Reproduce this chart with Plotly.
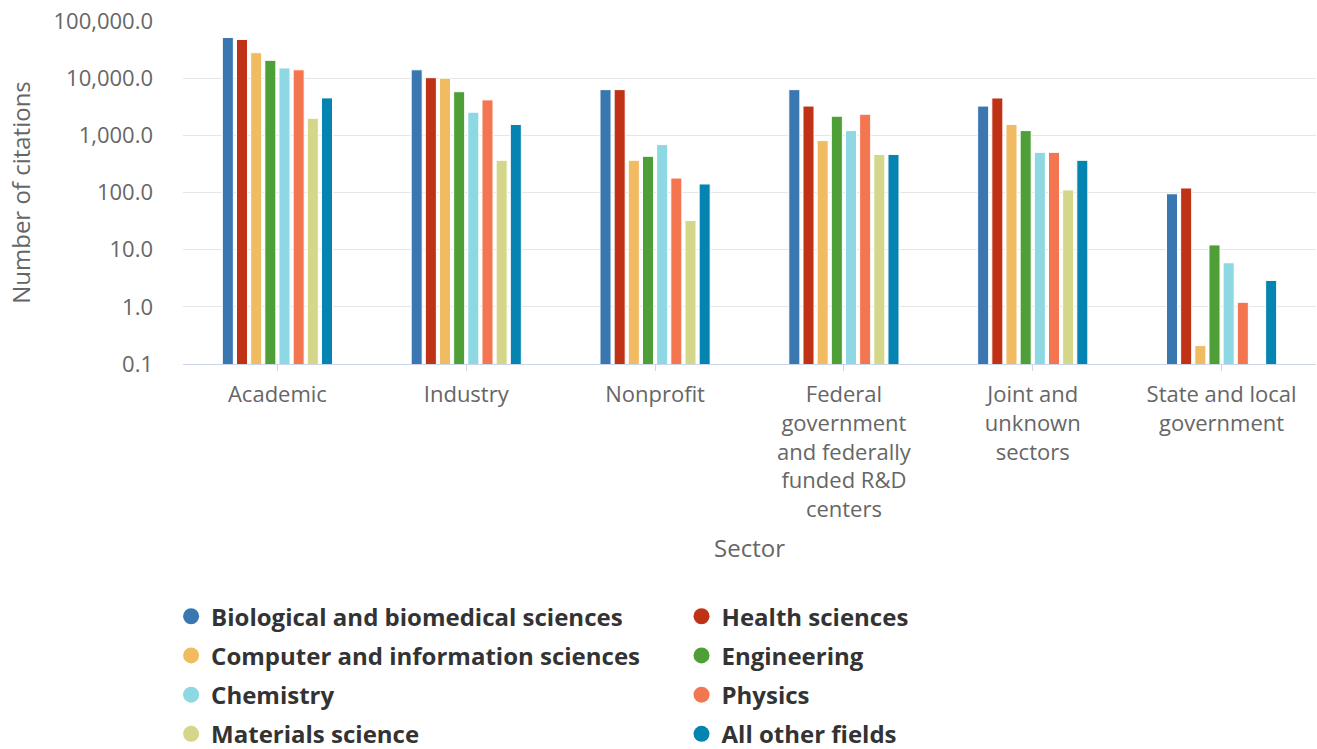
import plotly.graph_objects as go

sectors = ["Academic", "Industry", "Nonprofit",
           "Federal government and federally funded R&D centers",
           "Joint and unknown sectors", "State and local government"]
sector_labels = ["Academic", "Industry", "Nonprofit",
                 "Federal<br>government<br>and federally<br>funded R&D<br>centers",
                 "Joint and<br>unknown<br>sectors", "State and local<br>government"]

fields = ["Biological and biomedical sciences", "Health sciences",
          "Computer and information sciences", "Engineering",
          "Chemistry", "Physics", "Materials science", "All other fields"]
colors = ["#3a77b0", "#bf3216", "#f1bb62", "#4e9f38",
          "#8dd8e3", "#f47651", "#d4d78a", "#0584b1"]
legend_column = ["legend", "legend2", "legend", "legend2",
                 "legend", "legend2", "legend", "legend2"]

bio = [51500, 14000, 6300, 6300, 3250, 95]
health = [47600, 10200, 6300, 3250, 4500, 120]
computer = [27900, 10000, 366, 810, 1550, 0.21]
engineering = [20500, 5800, 430, 2160, 1210, 12.1]
chemistry = [15100, 2540, 690, 1210, 504, 5.9]
physics = [14000, 4170, 179, 2340, 504, 1.2]
materials = [1990, 366, 32.5, 464, 111, None]
other = [4520, 1550, 141, 464, 366, 2.9]
series = [bio, health, computer, engineering, chemistry, physics, materials, other]

y_tickvals = [0.1, 1, 10, 100, 1000, 10000, 100000]
y_ticktext = ["0.1", "1.0", "10.0", "100.0", "1,000.0", "10,000.0", "100,000.0"]

fig = go.Figure()
for name, vals, col in zip(fields, series, colors):
    fig.add_trace(go.Bar(
        x=sectors, y=vals, name=name, marker_color=col,
        marker_line_color="#ffffff", marker_line_width=1,
        legendgroup=name, showlegend=False))
for name, col, lg in zip(fields, colors, legend_column):
    fig.add_trace(go.Scatter(
        x=[None], y=[None], mode="markers", name=name, legendgroup=name,
        legend=lg, marker=dict(symbol="circle", size=16, color=col)))

legend_font = dict(family="Open Sans", size=24, color="#333333", weight="bold")
fig.update_layout(
    width=1317, height=749,
    margin=dict(l=183, r=1, t=21, b=385, autoexpand=False),
    paper_bgcolor="#ffffff", plot_bgcolor="#ffffff",
    barmode="group", bargap=0.4, bargroupgap=0.22,
    font=dict(family="Open Sans", color="#666666", size=22),
    showlegend=True,
    legend=dict(orientation="v", x=-0.0105, xanchor="left", y=-0.671, yanchor="top",
                tracegroupgap=5, font=legend_font, itemsizing="trace",
                bgcolor="rgba(0,0,0,0)"),
    legend2=dict(orientation="v", x=0.440, xanchor="left", y=-0.671, yanchor="top",
                 tracegroupgap=5, font=legend_font, itemsizing="trace",
                 bgcolor="rgba(0,0,0,0)"),
    xaxis=dict(
        type="category", tickmode="array", tickvals=sectors, ticktext=sector_labels,
        showline=True, linecolor="#ccd6eb", linewidth=1,
        ticks="outside", ticklen=6, tickcolor="#ccd6eb",
        tickfont=dict(size=22, color="#666666"), ticklabelstandoff=5,
        showgrid=False,
        title=dict(text="Sector", font=dict(size=24, color="#666666"), standoff=18),
    ),
    yaxis=dict(
        type="log", range=[-1, 5], tickmode="array",
        tickvals=y_tickvals, ticktext=y_ticktext,
        tickfont=dict(size=22, color="#666666"),
        showgrid=True, gridcolor="#e6e6e6", gridwidth=1,
        showline=False, ticks="", ticklabelstandoff=29,
        title=dict(text="Number of citations", font=dict(size=24, color="#666666"), standoff=16),
    ),
)

fig.write_html("out.html", config={"displayModeBar": False},
               post_script="document.body.style.margin='0px';")
